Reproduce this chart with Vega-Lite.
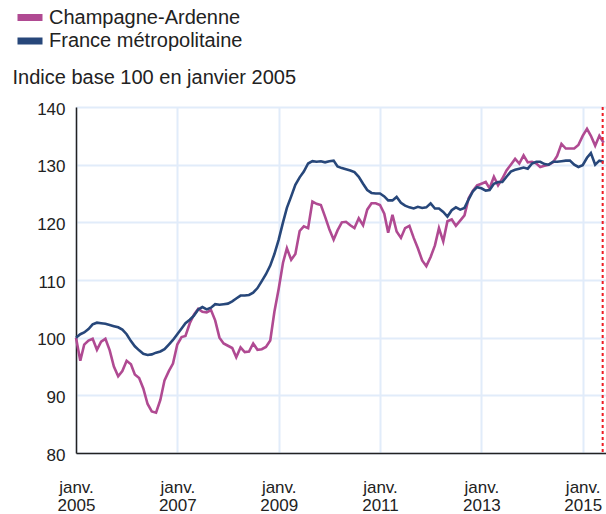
{
  "$schema": "https://vega.github.io/schema/vega-lite/v6.json",
  "width": 530,
  "height": 346,
  "autosize": {"type": "none"},
  "padding": {"left": 76, "top": 107, "right": 0, "bottom": 61},
  "background": "white",
  "config": {"view": {"stroke": null}, "font": "Liberation Sans"},
  "datasets": {
    "series": [
      {"d": "2005-01-01", "Champagne-Ardenne": 100.0, "France métropolitaine": 100.0},
      {"d": "2005-02-01", "Champagne-Ardenne": 96.0, "France métropolitaine": 100.6},
      {"d": "2005-03-01", "Champagne-Ardenne": 98.8, "France métropolitaine": 100.9},
      {"d": "2005-04-01", "Champagne-Ardenne": 99.5, "France métropolitaine": 101.5},
      {"d": "2005-05-01", "Champagne-Ardenne": 99.8, "France métropolitaine": 102.3},
      {"d": "2005-06-01", "Champagne-Ardenne": 97.9, "France métropolitaine": 102.6},
      {"d": "2005-07-01", "Champagne-Ardenne": 99.3, "France métropolitaine": 102.5},
      {"d": "2005-08-01", "Champagne-Ardenne": 99.8, "France métropolitaine": 102.4},
      {"d": "2005-09-01", "Champagne-Ardenne": 97.8, "France métropolitaine": 102.2},
      {"d": "2005-10-01", "Champagne-Ardenne": 95.0, "France métropolitaine": 102.0},
      {"d": "2005-11-01", "Champagne-Ardenne": 93.3, "France métropolitaine": 101.8},
      {"d": "2005-12-01", "Champagne-Ardenne": 94.2, "France métropolitaine": 101.4},
      {"d": "2006-01-01", "Champagne-Ardenne": 96.0, "France métropolitaine": 100.6},
      {"d": "2006-02-01", "Champagne-Ardenne": 95.4, "France métropolitaine": 99.4},
      {"d": "2006-03-01", "Champagne-Ardenne": 93.6, "France métropolitaine": 98.5},
      {"d": "2006-04-01", "Champagne-Ardenne": 93.0, "France métropolitaine": 97.8},
      {"d": "2006-05-01", "Champagne-Ardenne": 91.2, "France métropolitaine": 97.2},
      {"d": "2006-06-01", "Champagne-Ardenne": 88.5, "France métropolitaine": 97.0},
      {"d": "2006-07-01", "Champagne-Ardenne": 87.2, "France métropolitaine": 97.1},
      {"d": "2006-08-01", "Champagne-Ardenne": 87.0, "France métropolitaine": 97.4},
      {"d": "2006-09-01", "Champagne-Ardenne": 89.2, "France métropolitaine": 97.6},
      {"d": "2006-10-01", "Champagne-Ardenne": 92.6, "France métropolitaine": 98.0},
      {"d": "2006-11-01", "Champagne-Ardenne": 94.2, "France métropolitaine": 98.8},
      {"d": "2006-12-01", "Champagne-Ardenne": 95.5, "France métropolitaine": 99.6},
      {"d": "2007-01-01", "Champagne-Ardenne": 98.8, "France métropolitaine": 100.6},
      {"d": "2007-02-01", "Champagne-Ardenne": 100.1, "France métropolitaine": 101.6},
      {"d": "2007-03-01", "Champagne-Ardenne": 100.3, "France métropolitaine": 102.5},
      {"d": "2007-04-01", "Champagne-Ardenne": 102.5, "France métropolitaine": 103.1},
      {"d": "2007-05-01", "Champagne-Ardenne": 104.0, "France métropolitaine": 103.8},
      {"d": "2007-06-01", "Champagne-Ardenne": 105.0, "France métropolitaine": 104.9},
      {"d": "2007-07-01", "Champagne-Ardenne": 104.5, "France métropolitaine": 105.3},
      {"d": "2007-08-01", "Champagne-Ardenne": 104.4, "France métropolitaine": 104.9},
      {"d": "2007-09-01", "Champagne-Ardenne": 104.8, "France métropolitaine": 105.2},
      {"d": "2007-10-01", "Champagne-Ardenne": 103.0, "France métropolitaine": 105.8},
      {"d": "2007-11-01", "Champagne-Ardenne": 100.0, "France métropolitaine": 105.7},
      {"d": "2007-12-01", "Champagne-Ardenne": 99.0, "France métropolitaine": 105.8},
      {"d": "2008-01-01", "Champagne-Ardenne": 98.6, "France métropolitaine": 105.9},
      {"d": "2008-02-01", "Champagne-Ardenne": 98.2, "France métropolitaine": 106.3},
      {"d": "2008-03-01", "Champagne-Ardenne": 96.6, "France métropolitaine": 106.8},
      {"d": "2008-04-01", "Champagne-Ardenne": 98.3, "France métropolitaine": 107.3},
      {"d": "2008-05-01", "Champagne-Ardenne": 97.5, "France métropolitaine": 107.3},
      {"d": "2008-06-01", "Champagne-Ardenne": 97.6, "France métropolitaine": 107.4},
      {"d": "2008-07-01", "Champagne-Ardenne": 99.0, "France métropolitaine": 107.8},
      {"d": "2008-08-01", "Champagne-Ardenne": 97.9, "France métropolitaine": 108.6},
      {"d": "2008-09-01", "Champagne-Ardenne": 98.0, "France métropolitaine": 109.8},
      {"d": "2008-10-01", "Champagne-Ardenne": 98.4, "France métropolitaine": 111.0},
      {"d": "2008-11-01", "Champagne-Ardenne": 99.5, "France métropolitaine": 112.5},
      {"d": "2008-12-01", "Champagne-Ardenne": 104.5, "France métropolitaine": 114.5},
      {"d": "2009-01-01", "Champagne-Ardenne": 108.5, "France métropolitaine": 117.0},
      {"d": "2009-02-01", "Champagne-Ardenne": 113.0, "France métropolitaine": 120.0},
      {"d": "2009-03-01", "Champagne-Ardenne": 115.5, "France métropolitaine": 122.5},
      {"d": "2009-04-01", "Champagne-Ardenne": 113.5, "France métropolitaine": 124.5},
      {"d": "2009-05-01", "Champagne-Ardenne": 114.5, "France métropolitaine": 126.5},
      {"d": "2009-06-01", "Champagne-Ardenne": 118.5, "France métropolitaine": 127.8},
      {"d": "2009-07-01", "Champagne-Ardenne": 119.3, "France métropolitaine": 128.8},
      {"d": "2009-08-01", "Champagne-Ardenne": 119.0, "France métropolitaine": 130.2},
      {"d": "2009-09-01", "Champagne-Ardenne": 123.6, "France métropolitaine": 130.6},
      {"d": "2009-10-01", "Champagne-Ardenne": 123.2, "France métropolitaine": 130.5},
      {"d": "2009-11-01", "Champagne-Ardenne": 123.0, "France métropolitaine": 130.6},
      {"d": "2009-12-01", "Champagne-Ardenne": 121.0, "France métropolitaine": 130.4},
      {"d": "2010-01-01", "Champagne-Ardenne": 118.8, "France métropolitaine": 130.6},
      {"d": "2010-02-01", "Champagne-Ardenne": 117.0, "France métropolitaine": 130.7},
      {"d": "2010-03-01", "Champagne-Ardenne": 118.6, "France métropolitaine": 129.7},
      {"d": "2010-04-01", "Champagne-Ardenne": 120.0, "France métropolitaine": 129.4},
      {"d": "2010-05-01", "Champagne-Ardenne": 120.1, "France métropolitaine": 129.2},
      {"d": "2010-06-01", "Champagne-Ardenne": 119.5, "France métropolitaine": 129.0},
      {"d": "2010-07-01", "Champagne-Ardenne": 119.0, "France métropolitaine": 128.7},
      {"d": "2010-08-01", "Champagne-Ardenne": 120.7, "France métropolitaine": 127.9},
      {"d": "2010-09-01", "Champagne-Ardenne": 119.5, "France métropolitaine": 126.7},
      {"d": "2010-10-01", "Champagne-Ardenne": 122.2, "France métropolitaine": 125.6},
      {"d": "2010-11-01", "Champagne-Ardenne": 123.3, "France métropolitaine": 125.1},
      {"d": "2010-12-01", "Champagne-Ardenne": 123.3, "France métropolitaine": 125.0},
      {"d": "2011-01-01", "Champagne-Ardenne": 123.0, "France métropolitaine": 125.0},
      {"d": "2011-02-01", "Champagne-Ardenne": 121.5, "France métropolitaine": 124.5},
      {"d": "2011-03-01", "Champagne-Ardenne": 118.2, "France métropolitaine": 123.8},
      {"d": "2011-04-01", "Champagne-Ardenne": 121.3, "France métropolitaine": 123.8},
      {"d": "2011-05-01", "Champagne-Ardenne": 118.4, "France métropolitaine": 124.4},
      {"d": "2011-06-01", "Champagne-Ardenne": 117.3, "France métropolitaine": 123.4},
      {"d": "2011-07-01", "Champagne-Ardenne": 119.0, "France métropolitaine": 122.9},
      {"d": "2011-08-01", "Champagne-Ardenne": 119.4, "France métropolitaine": 122.6},
      {"d": "2011-09-01", "Champagne-Ardenne": 117.3, "France métropolitaine": 122.4},
      {"d": "2011-10-01", "Champagne-Ardenne": 115.5, "France métropolitaine": 122.7},
      {"d": "2011-11-01", "Champagne-Ardenne": 113.4, "France métropolitaine": 122.5},
      {"d": "2011-12-01", "Champagne-Ardenne": 112.4, "France métropolitaine": 122.6},
      {"d": "2012-01-01", "Champagne-Ardenne": 114.0, "France métropolitaine": 123.3},
      {"d": "2012-02-01", "Champagne-Ardenne": 116.0, "France métropolitaine": 122.4},
      {"d": "2012-03-01", "Champagne-Ardenne": 119.0, "France métropolitaine": 122.4},
      {"d": "2012-04-01", "Champagne-Ardenne": 116.7, "France métropolitaine": 121.8},
      {"d": "2012-05-01", "Champagne-Ardenne": 120.2, "France métropolitaine": 121.0},
      {"d": "2012-06-01", "Champagne-Ardenne": 120.5, "France métropolitaine": 122.1},
      {"d": "2012-07-01", "Champagne-Ardenne": 119.4, "France métropolitaine": 122.6},
      {"d": "2012-08-01", "Champagne-Ardenne": 120.3, "France métropolitaine": 122.2},
      {"d": "2012-09-01", "Champagne-Ardenne": 121.2, "France métropolitaine": 122.5},
      {"d": "2012-10-01", "Champagne-Ardenne": 124.2, "France métropolitaine": 124.0},
      {"d": "2012-11-01", "Champagne-Ardenne": 125.5, "France métropolitaine": 125.4},
      {"d": "2012-12-01", "Champagne-Ardenne": 126.4, "France métropolitaine": 126.1},
      {"d": "2013-01-01", "Champagne-Ardenne": 126.7, "France métropolitaine": 125.9},
      {"d": "2013-02-01", "Champagne-Ardenne": 127.0, "France métropolitaine": 125.5},
      {"d": "2013-03-01", "Champagne-Ardenne": 125.9, "France métropolitaine": 125.6},
      {"d": "2013-04-01", "Champagne-Ardenne": 127.9, "France métropolitaine": 126.7},
      {"d": "2013-05-01", "Champagne-Ardenne": 126.4, "France métropolitaine": 127.0},
      {"d": "2013-06-01", "Champagne-Ardenne": 127.6, "France métropolitaine": 127.0},
      {"d": "2013-07-01", "Champagne-Ardenne": 129.0, "France métropolitaine": 127.9},
      {"d": "2013-08-01", "Champagne-Ardenne": 130.0, "France métropolitaine": 128.8},
      {"d": "2013-09-01", "Champagne-Ardenne": 131.0, "France métropolitaine": 129.1},
      {"d": "2013-10-01", "Champagne-Ardenne": 130.2, "France métropolitaine": 129.3},
      {"d": "2013-11-01", "Champagne-Ardenne": 131.6, "France métropolitaine": 129.5},
      {"d": "2013-12-01", "Champagne-Ardenne": 130.4, "France métropolitaine": 129.3},
      {"d": "2014-01-01", "Champagne-Ardenne": 130.5, "France métropolitaine": 130.2},
      {"d": "2014-02-01", "Champagne-Ardenne": 130.2, "France métropolitaine": 130.5},
      {"d": "2014-03-01", "Champagne-Ardenne": 129.6, "France métropolitaine": 130.5},
      {"d": "2014-04-01", "Champagne-Ardenne": 129.8, "France métropolitaine": 130.1},
      {"d": "2014-05-01", "Champagne-Ardenne": 130.0, "France métropolitaine": 130.0},
      {"d": "2014-06-01", "Champagne-Ardenne": 130.4, "France métropolitaine": 130.5},
      {"d": "2014-07-01", "Champagne-Ardenne": 131.5, "France métropolitaine": 130.5},
      {"d": "2014-08-01", "Champagne-Ardenne": 133.6, "France métropolitaine": 130.6},
      {"d": "2014-09-01", "Champagne-Ardenne": 132.8, "France métropolitaine": 130.7},
      {"d": "2014-10-01", "Champagne-Ardenne": 132.8, "France métropolitaine": 130.7},
      {"d": "2014-11-01", "Champagne-Ardenne": 132.8, "France métropolitaine": 130.0},
      {"d": "2014-12-01", "Champagne-Ardenne": 133.4, "France métropolitaine": 129.6},
      {"d": "2015-01-01", "Champagne-Ardenne": 135.0, "France métropolitaine": 129.9},
      {"d": "2015-02-01", "Champagne-Ardenne": 136.2, "France métropolitaine": 131.2},
      {"d": "2015-03-01", "Champagne-Ardenne": 135.0, "France métropolitaine": 132.0},
      {"d": "2015-04-01", "Champagne-Ardenne": 133.3, "France métropolitaine": 130.0},
      {"d": "2015-05-01", "Champagne-Ardenne": 135.0, "France métropolitaine": 130.7},
      {"d": "2015-06-01", "Champagne-Ardenne": 133.8, "France métropolitaine": 130.5}
    ],
    "marker": [{"d": "2015-05-25"}]
  },
  "layer": [
    {
      "data": {"name": "series"},
      "transform": [{"fold": ["Champagne-Ardenne", "France métropolitaine"], "as": ["region", "value"]}],
      "mark": {"type": "line", "strokeWidth": 2.6},
      "encoding": {
        "x": {
          "field": "d", "type": "temporal",
          "scale": {"type": "utc", "domain": [1104537600000, 1434585600000]},
          "axis": {
            "title": null,
            "values": [1104537600000, 1167609600000, 1230768000000, 1293840000000, 1356998400000, 1420070400000],
            "labelExpr": "['janv.', utcFormat(datum.value, '%Y')]",
            "grid": true, "gridColor": "#e1ecfa", "gridWidth": 2,
            "ticks": false,
            "domainColor": "#222222", "domainWidth": 1.5,
            "labelFontSize": 17, "labelColor": "#222222",
            "labelPadding": 26, "labelLineHeight": 18, "labelBaseline": "top",
            "labelFlush": false, "labelOverlap": false
          }
        },
        "y": {
          "field": "value", "type": "quantitative",
          "scale": {"domain": [80, 140], "zero": false, "nice": false},
          "axis": {
            "values": [80, 90, 100, 110, 120, 130, 140],
            "grid": true, "gridColor": "#e1ecfa", "gridWidth": 2,
            "ticks": false,
            "domainColor": "#222222", "domainWidth": 1.5,
            "labelFontSize": 17, "labelColor": "#222222", "labelPadding": 11, "labelOffset": 2,
            "title": "Indice base 100 en janvier 2005",
            "titleAngle": 0, "titleAlign": "left", "titleBaseline": "alphabetic",
            "titleX": -64, "titleY": -24,
            "titleFontSize": 20, "titleFontWeight": "normal", "titleColor": "#222222"
          }
        },
        "color": {
          "field": "region", "type": "nominal",
          "scale": {"domain": ["Champagne-Ardenne", "France métropolitaine"], "range": ["#b04a92", "#27477a"]},
          "legend": {
            "title": null, "orient": "none", "legendX": -62, "legendY": -99.5,
            "direction": "vertical", "padding": 0,
            "symbolType": "stroke", "symbolSize": 625, "symbolStrokeWidth": 7,
            "labelFontSize": 20, "labelColor": "#222222", "labelOffset": 3, "labelLimit": 400,
            "clipHeight": 20, "rowPadding": 3.5
          }
        }
      }
    },
    {
      "data": {"name": "marker"},
      "mark": {"type": "rule", "color": "#ee1c24", "strokeWidth": 2, "strokeDash": [3, 3]},
      "encoding": {"x": {"field": "d", "type": "temporal"}}
    }
  ]
}
